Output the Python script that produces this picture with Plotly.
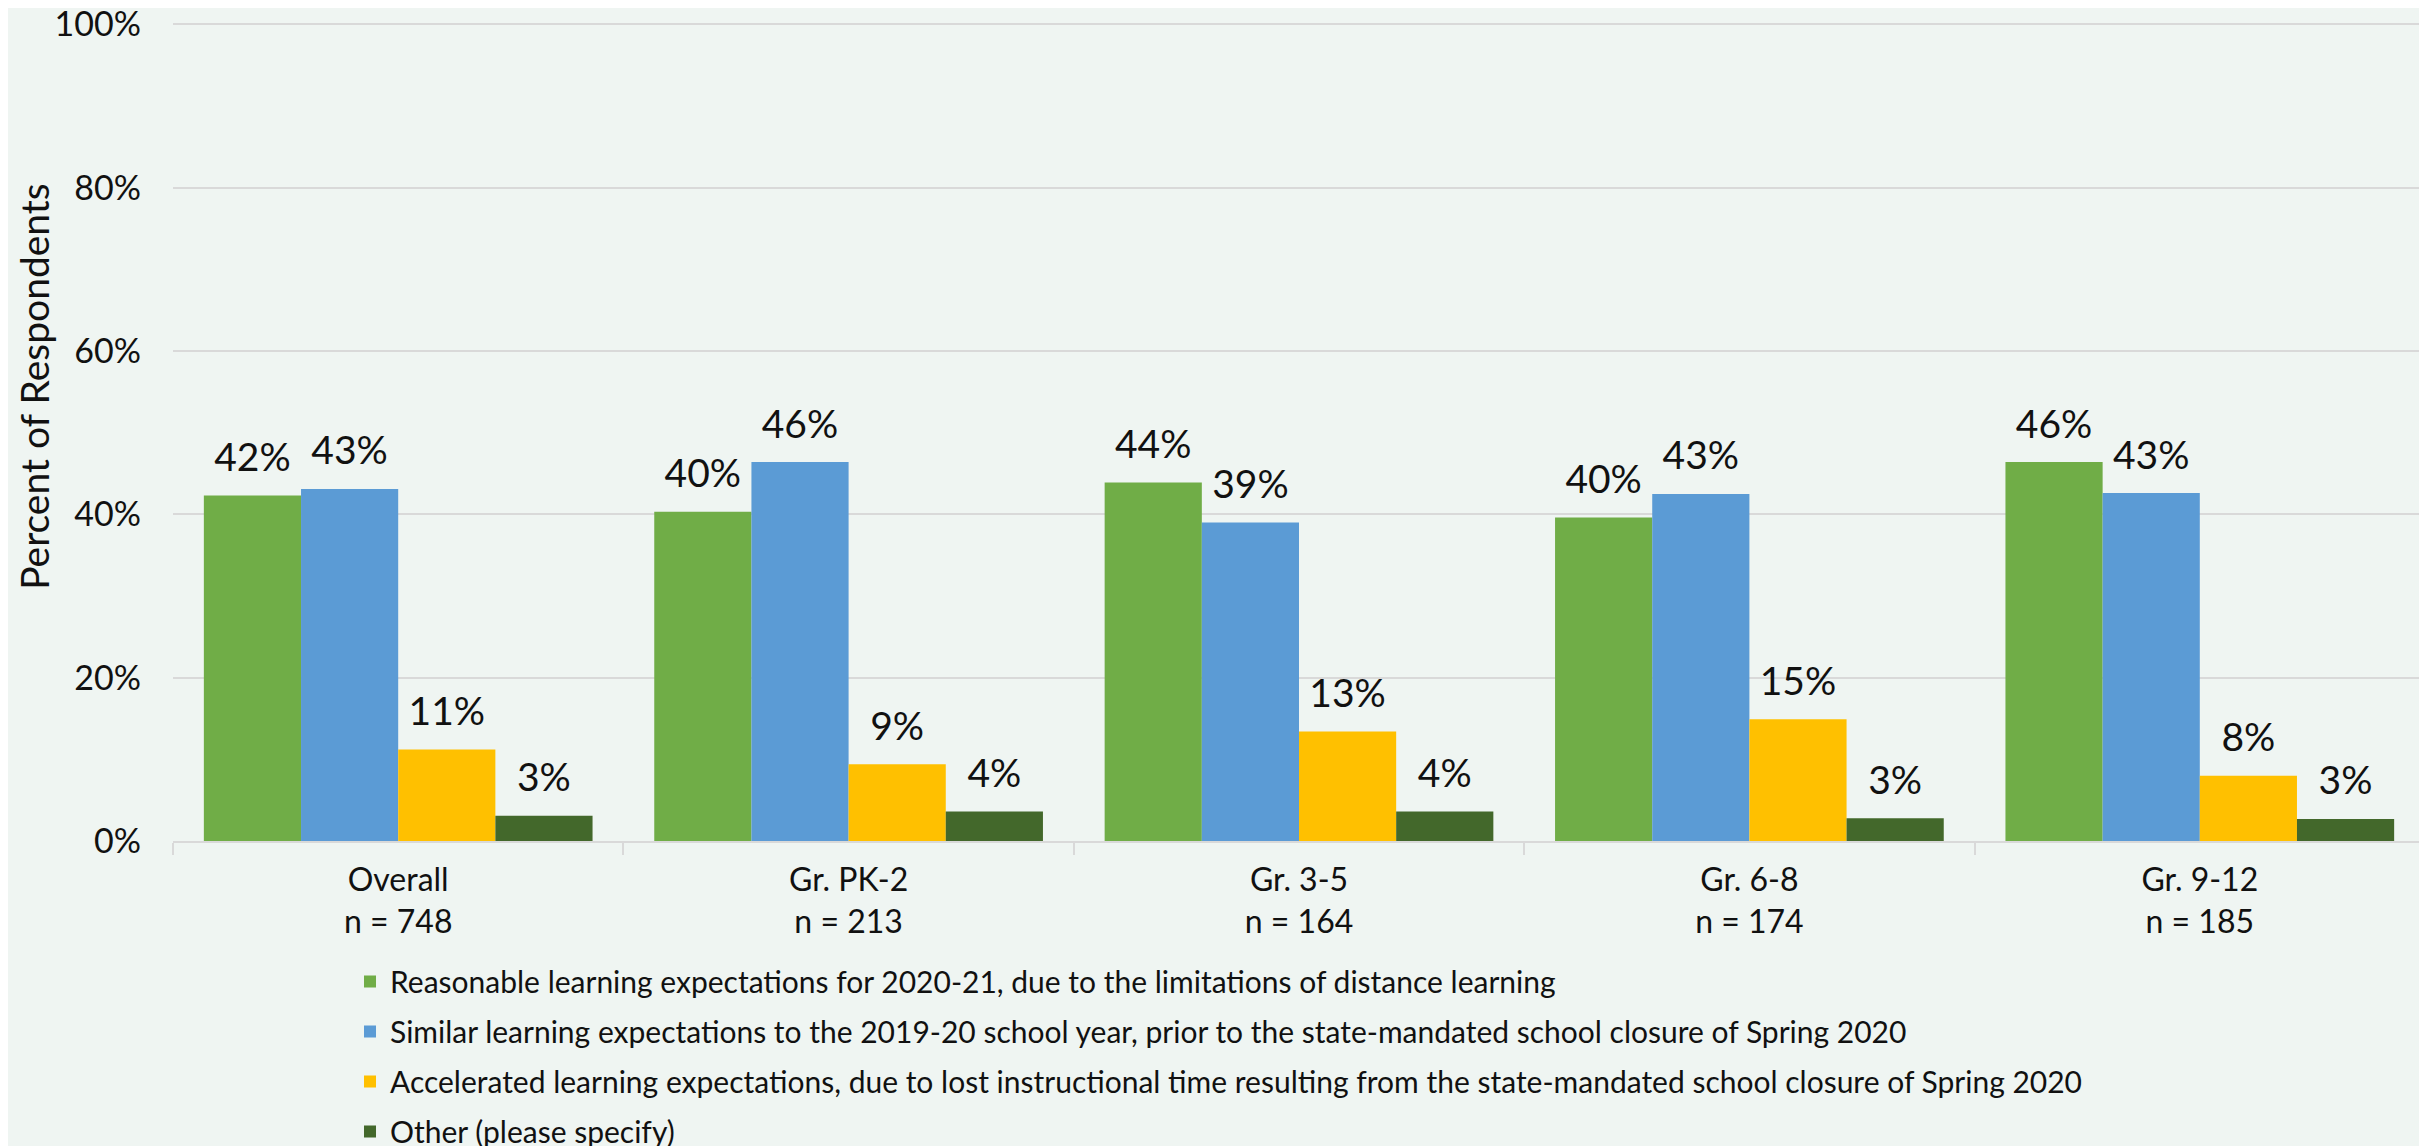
import plotly.graph_objects as go

# Data
categories = ["Overall<br>n = 748", "Gr. PK-2<br>n = 213", "Gr. 3-5<br>n = 164",
              "Gr. 6-8<br>n = 174", "Gr. 9-12<br>n = 185"]

reasonable = [42.3, 40.3, 43.9, 39.6, 46.4]
similar = [43.1, 46.4, 39.0, 42.5, 42.6]
accelerated = [11.2, 9.4, 13.4, 14.9, 8.0]
other = [3.1, 3.6, 3.6, 2.8, 2.7]

series_names = [
    "Reasonable learning expectations for 2020-21, due to the limitations of distance learning",
    "Similar learning expectations to the 2019-20 school year, prior to the state-mandated school closure of Spring 2020",
    "Accelerated learning expectations, due to lost instructional time resulting from the state-mandated school closure of Spring 2020",
    "Other (please specify)",
]
series_values = [reasonable, similar, accelerated, other]
colors = ["#70AD47", "#5B9BD5", "#FFC000", "#43682B"]

FONT = "Lato, 'Open Sans', sans-serif"
BG = "#EFF5F2"
GAP = 0.137

fig = go.Figure()

for idx, (name, vals) in enumerate(zip(series_names, series_values)):
    fig.add_trace(go.Bar(
        x=categories,
        y=vals,
        name=name,
        legendgroup=f"g{idx}",
        marker=dict(color=colors[idx], line=dict(width=0)),
    ))

# value labels: invisible markers grouped like the bars, text sits above them
for idx, vals in enumerate(series_values):
    fig.add_trace(go.Scatter(
        x=categories,
        y=vals,
        mode="markers+text",
        orientation="v",
        marker=dict(size=22, opacity=0),
        texttemplate="%{y:.0f}%",
        textposition="top center",
        textfont=dict(size=39, color="#111111", family=FONT),
        showlegend=False,
        hoverinfo="skip",
    ))

fig.update_layout(
    # the page body adds an 8px offset; the div is made a bit taller than the
    # window so the legend has room without pushing the margins
    width=2427,
    height=1170,
    barmode="group",
    bargap=GAP,
    bargroupgap=0,
    scattermode="group",
    scattergap=GAP,
    paper_bgcolor=BG,
    plot_bgcolor=BG,
    font=dict(family=FONT, size=34, color="#111111"),
    margin=dict(l=165, r=10, t=13, b=337),
    legend=dict(
        orientation="v",
        x=0.0786,
        xanchor="left",
        y=-0.1395,
        yanchor="top",
        font=dict(size=30, family=FONT, color="#111111"),
        bgcolor="rgba(0,0,0,0)",
        tracegroupgap=8,
        traceorder="grouped",
    ),
    xaxis=dict(
        automargin=False,
        showgrid=False,
        showline=True,
        linecolor="#D9D9D9",
        linewidth=2,
        ticks="outside",
        tickson="boundaries",
        ticklen=12,
        tickcolor="#D9D9D9",
        tickwidth=2,
        tickangle=0,
        ticklabelstandoff=10,
        tickfont=dict(size=32),
    ),
    yaxis=dict(
        automargin=False,
        # a hair above 100 so the top gridline is not dropped at the edge
        range=[0, 100.4],
        tick0=0,
        dtick=20,
        ticksuffix="%",
        showgrid=True,
        gridcolor="#D9D9D9",
        gridwidth=2,
        zeroline=False,
        ticks="",
        ticklabelstandoff=31,
        ticklabeloverflow="allow",
        tickfont=dict(size=34),
    ),
    annotations=[dict(
        text="Percent of Respondents",
        xref="paper", yref="paper",
        x=-0.0617, y=0.554,
        xanchor="center", yanchor="middle",
        textangle=-90,
        showarrow=False,
        font=dict(size=39, family=FONT, color="#111111"),
    )],
)

fig.write_html("out.html")
